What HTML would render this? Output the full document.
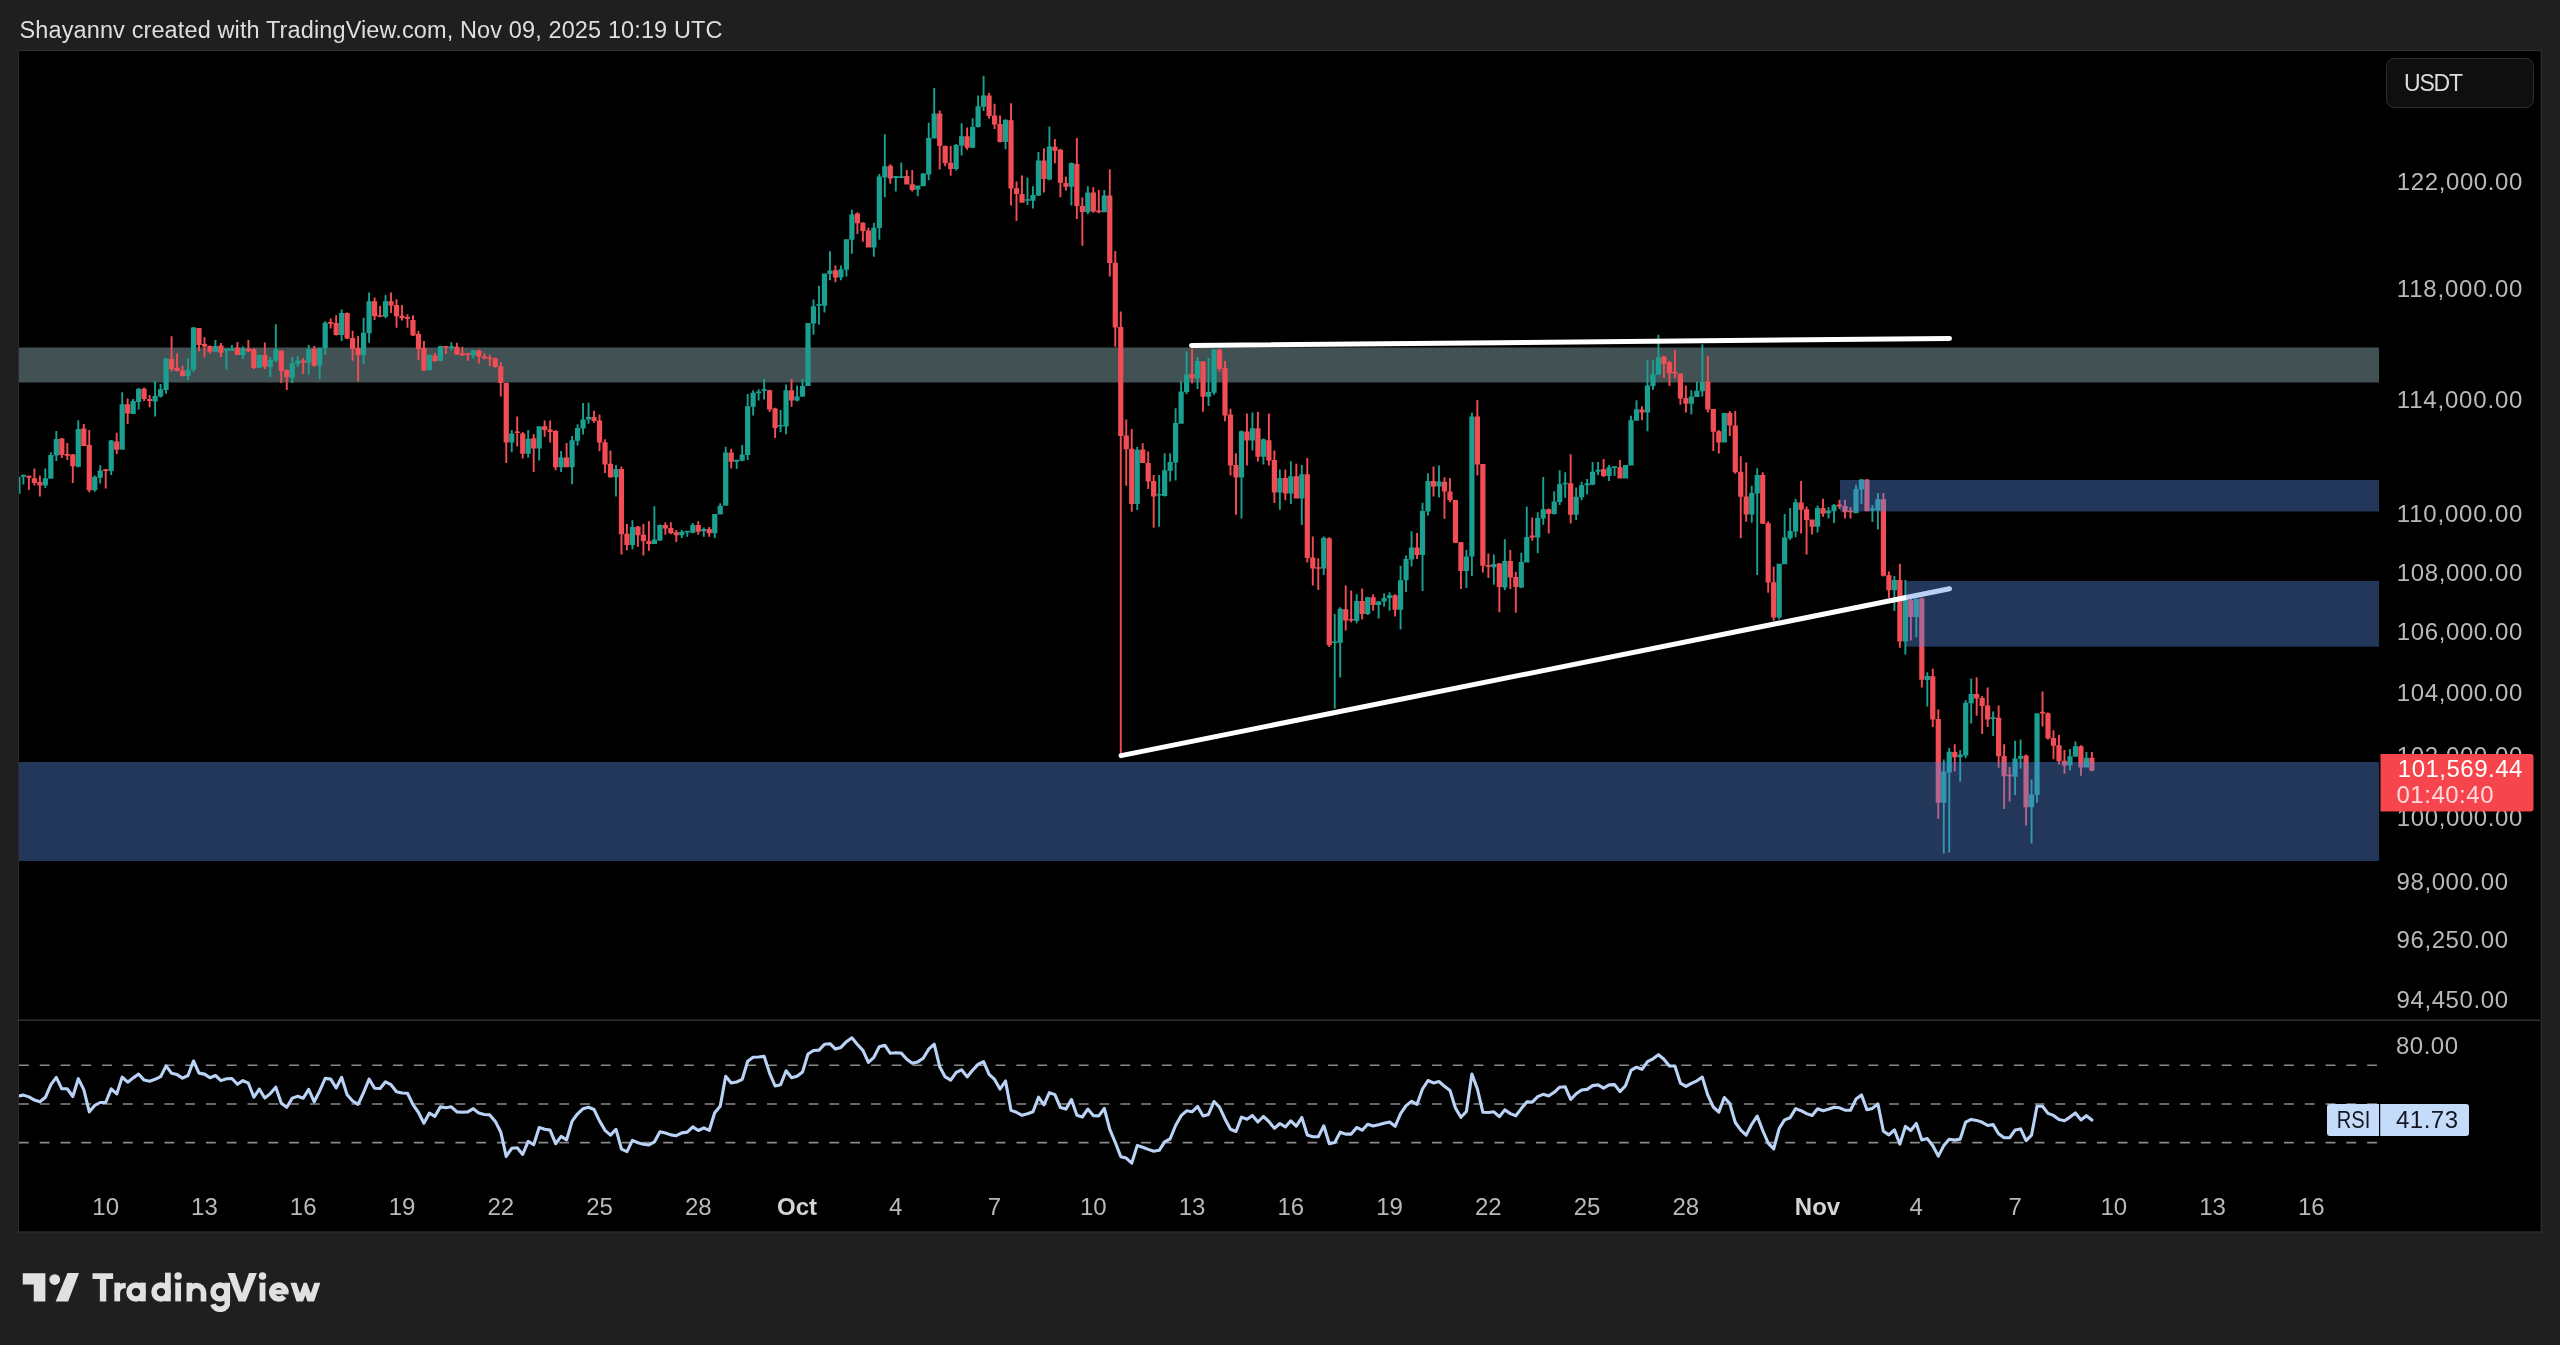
<!DOCTYPE html>
<html><head><meta charset="utf-8"><title>BTCUSDT chart</title>
<style>html,body{margin:0;padding:0;background:#1f1f1f;}body{width:2560px;height:1345px;overflow:hidden;}svg{display:block;will-change:transform}text{font-family:"Liberation Sans",sans-serif;}</style>
</head><body>
<svg width="2560" height="1345" viewBox="0 0 2560 1345">
<rect width="2560" height="1345" fill="#1f1f1f"/>
<rect x="18" y="50" width="2524" height="1182.7" fill="#2c2c2c"/>
<rect x="19" y="51" width="2521.6" height="1180.3" fill="#000"/>
<rect x="19" y="1019.5" width="2521" height="1.5" fill="#2e3038"/>
<defs><clipPath id="cp"><rect x="19" y="51" width="2380" height="1179"/></clipPath></defs>
<rect x="19" y="347.5" width="2360" height="35" fill="#425254"/>
<g clip-path="url(#cp)"><path d="M16.98 476.8h1.9V493.7h-1.9ZM15.33 476.8h5.2V493.7h-5.2ZM22.47 474.4h1.9V484.5h-1.9ZM20.82 474.9h5.2V476.8h-5.2ZM44.41 468.6h1.9V487.9h-1.9ZM42.76 478.3h5.2V485.5h-5.2ZM49.90 452.2h1.9V478.7h-1.9ZM48.25 455.1h5.2V478.7h-5.2ZM55.39 430.9h1.9V460.9h-1.9ZM53.74 439.1h5.2V455.5h-5.2ZM77.33 420.3h1.9V467.6h-1.9ZM75.68 429.0h5.2V466.7h-5.2ZM93.79 475.4h1.9V491.8h-1.9ZM92.14 476.8h5.2V490.3h-5.2ZM99.28 465.2h1.9V483.6h-1.9ZM97.63 470.5h5.2V477.8h-5.2ZM110.25 440.1h1.9V474.9h-1.9ZM108.60 440.6h5.2V471.0h-5.2ZM121.23 392.2h1.9V449.7h-1.9ZM119.58 404.3h5.2V449.7h-5.2ZM132.20 399.0h1.9V414.0h-1.9ZM130.55 400.9h5.2V414.0h-5.2ZM137.69 387.9h1.9V409.6h-1.9ZM136.04 388.8h5.2V401.9h-5.2ZM154.15 381.1h1.9V416.4h-1.9ZM152.50 396.1h5.2V401.4h-5.2ZM159.63 384.0h1.9V397.5h-1.9ZM157.98 389.3h5.2V396.6h-5.2ZM165.12 358.0h1.9V393.8h-1.9ZM163.47 358.5h5.2V389.9h-5.2ZM187.07 358.5h1.9V379.7h-1.9ZM185.42 369.6h5.2V375.9h-5.2ZM192.55 327.0h1.9V372.0h-1.9ZM190.90 327.5h5.2V369.6h-5.2ZM214.50 340.1h1.9V352.2h-1.9ZM212.85 345.9h5.2V351.7h-5.2ZM225.47 348.8h1.9V369.6h-1.9ZM223.82 348.8h5.2V350.7h-5.2ZM230.96 345.0h1.9V350.7h-1.9ZM229.31 348.3h5.2V350.7h-5.2ZM241.93 346.4h1.9V359.0h-1.9ZM240.28 348.3h5.2V355.1h-5.2ZM258.39 354.6h1.9V368.1h-1.9ZM256.74 355.1h5.2V367.7h-5.2ZM269.37 357.0h1.9V377.3h-1.9ZM267.72 359.9h5.2V366.7h-5.2ZM274.85 324.2h1.9V361.9h-1.9ZM273.20 349.3h5.2V360.4h-5.2ZM291.31 357.0h1.9V383.1h-1.9ZM289.66 363.3h5.2V377.8h-5.2ZM296.80 356.0h1.9V366.7h-1.9ZM295.15 360.4h5.2V363.8h-5.2ZM307.78 344.9h1.9V374.4h-1.9ZM306.13 349.3h5.2V362.8h-5.2ZM318.75 347.8h1.9V379.3h-1.9ZM317.10 347.8h5.2V365.7h-5.2ZM324.24 321.3h1.9V355.1h-1.9ZM322.59 322.7h5.2V348.3h-5.2ZM340.70 309.5h1.9V340.9h-1.9ZM339.05 312.9h5.2V335.1h-5.2ZM362.64 317.7h1.9V364.1h-1.9ZM360.99 332.7h5.2V354.9h-5.2ZM368.13 292.6h1.9V342.8h-1.9ZM366.48 301.3h5.2V333.2h-5.2ZM384.59 295.0h1.9V318.2h-1.9ZM382.94 301.3h5.2V316.7h-5.2ZM428.48 354.4h1.9V370.4h-1.9ZM426.83 354.9h5.2V369.9h-5.2ZM439.46 345.7h1.9V361.2h-1.9ZM437.81 346.2h5.2V360.7h-5.2ZM450.43 342.3h1.9V350.6h-1.9ZM448.78 346.2h5.2V348.1h-5.2ZM472.38 350.1h1.9V358.8h-1.9ZM470.73 350.6h5.2V355.4h-5.2ZM510.78 430.1h1.9V452.3h-1.9ZM509.13 433.5h5.2V442.6h-5.2ZM527.24 430.1h1.9V457.6h-1.9ZM525.59 438.8h5.2V453.8h-5.2ZM538.22 426.2h1.9V460.5h-1.9ZM536.57 426.2h5.2V448.4h-5.2ZM560.16 450.9h1.9V472.1h-1.9ZM558.51 457.6h5.2V467.3h-5.2ZM571.14 435.9h1.9V484.2h-1.9ZM569.49 440.2h5.2V467.3h-5.2ZM576.62 424.3h1.9V445.5h-1.9ZM574.97 428.1h5.2V440.7h-5.2ZM582.11 403.0h1.9V434.4h-1.9ZM580.46 419.4h5.2V428.6h-5.2ZM587.60 402.5h1.9V423.8h-1.9ZM585.95 417.0h5.2V419.4h-5.2ZM615.03 465.1h1.9V496.5h-1.9ZM613.38 469.0h5.2V477.2h-5.2ZM631.49 520.2h1.9V549.2h-1.9ZM629.84 527.0h5.2V544.9h-5.2ZM653.44 506.2h1.9V543.9h-1.9ZM651.79 539.6h5.2V543.9h-5.2ZM658.92 524.6h1.9V541.0h-1.9ZM657.27 525.1h5.2V540.5h-5.2ZM680.87 529.9h1.9V538.1h-1.9ZM679.22 531.8h5.2V535.2h-5.2ZM686.36 530.9h1.9V536.7h-1.9ZM684.71 530.8h5.2V532.4h-5.2ZM691.84 523.1h1.9V533.3h-1.9ZM690.19 525.1h5.2V532.8h-5.2ZM702.82 527.5h1.9V536.7h-1.9ZM701.17 528.9h5.2V531.3h-5.2ZM713.79 514.0h1.9V538.1h-1.9ZM712.14 514.0h5.2V533.3h-5.2ZM719.28 503.3h1.9V514.4h-1.9ZM717.63 505.7h5.2V514.4h-5.2ZM724.76 446.8h1.9V505.7h-1.9ZM723.11 452.6h5.2V505.7h-5.2ZM735.74 459.8h1.9V469.0h-1.9ZM734.09 459.8h5.2V461.7h-5.2ZM741.22 444.9h1.9V461.3h-1.9ZM739.57 454.5h5.2V460.8h-5.2ZM746.71 394.1h1.9V459.9h-1.9ZM745.06 406.2h5.2V455.0h-5.2ZM752.20 390.3h1.9V415.4h-1.9ZM750.55 392.7h5.2V406.7h-5.2ZM757.68 389.3h1.9V400.4h-1.9ZM756.03 391.6h5.2V393.2h-5.2ZM763.17 378.7h1.9V399.4h-1.9ZM761.52 389.2h5.2V390.9h-5.2ZM779.63 410.1h1.9V432.3h-1.9ZM777.98 425.0h5.2V426.6h-5.2ZM785.12 384.5h1.9V434.2h-1.9ZM783.47 390.3h5.2V426.5h-5.2ZM796.09 385.4h1.9V401.4h-1.9ZM794.44 396.5h5.2V400.4h-5.2ZM801.58 379.1h1.9V397.0h-1.9ZM799.93 385.9h5.2V396.5h-5.2ZM807.06 323.0h1.9V386.0h-1.9ZM805.41 323.0h5.2V386.0h-5.2ZM812.55 299.6h1.9V334.8h-1.9ZM810.90 306.3h5.2V323.6h-5.2ZM818.04 285.7h1.9V324.7h-1.9ZM816.39 304.1h5.2V305.8h-5.2ZM823.52 273.4h1.9V312.5h-1.9ZM821.87 273.4h5.2V305.8h-5.2ZM829.01 251.2h1.9V280.2h-1.9ZM827.36 270.4h5.2V274.0h-5.2ZM839.98 265.4h1.9V280.3h-1.9ZM838.33 269.2h5.2V277.4h-5.2ZM845.47 239.3h1.9V276.5h-1.9ZM843.82 239.3h5.2V269.7h-5.2ZM850.96 209.8h1.9V253.8h-1.9ZM849.31 214.6h5.2V239.7h-5.2ZM872.91 222.8h1.9V256.7h-1.9ZM871.26 227.7h5.2V247.5h-5.2ZM878.39 174.0h1.9V239.7h-1.9ZM876.74 176.4h5.2V228.1h-5.2ZM883.88 134.3h1.9V197.2h-1.9ZM882.23 166.3h5.2V177.4h-5.2ZM894.85 176.0h1.9V191.4h-1.9ZM893.20 176.0h5.2V177.9h-5.2ZM900.34 162.4h1.9V177.9h-1.9ZM898.69 176.3h5.2V178.0h-5.2ZM916.80 185.6h1.9V196.2h-1.9ZM915.15 185.6h5.2V189.5h-5.2ZM922.29 172.9h1.9V186.5h-1.9ZM920.64 173.4h5.2V186.0h-5.2ZM927.77 122.7h1.9V180.2h-1.9ZM926.12 138.1h5.2V174.4h-5.2ZM933.26 87.9h1.9V138.6h-1.9ZM931.61 113.5h5.2V138.6h-5.2ZM955.21 143.9h1.9V170.5h-1.9ZM953.56 144.9h5.2V169.1h-5.2ZM960.69 123.2h1.9V155.5h-1.9ZM959.04 136.2h5.2V145.4h-5.2ZM971.67 118.3h1.9V148.3h-1.9ZM970.02 127.0h5.2V147.8h-5.2ZM977.15 95.6h1.9V127.5h-1.9ZM975.50 106.2h5.2V127.0h-5.2ZM982.64 75.8h1.9V111.1h-1.9ZM980.99 95.6h5.2V106.7h-5.2ZM1004.59 119.3h1.9V149.3h-1.9ZM1002.94 119.8h5.2V142.0h-5.2ZM1026.53 177.5h1.9V205.1h-1.9ZM1024.88 199.2h5.2V200.8h-5.2ZM1032.02 186.2h1.9V208.5h-1.9ZM1030.37 194.9h5.2V200.7h-5.2ZM1037.51 151.9h1.9V195.9h-1.9ZM1035.86 160.6h5.2V195.4h-5.2ZM1048.48 126.5h1.9V180.2h-1.9ZM1046.83 146.4h5.2V179.5h-5.2ZM1070.43 162.6h1.9V205.6h-1.9ZM1068.78 163.0h5.2V186.7h-5.2ZM1086.89 186.2h1.9V214.3h-1.9ZM1085.24 192.5h5.2V212.3h-5.2ZM1103.35 190.1h1.9V212.3h-1.9ZM1101.70 195.4h5.2V212.3h-5.2ZM1136.27 447.0h1.9V509.9h-1.9ZM1134.62 449.7h5.2V504.1h-5.2ZM1158.21 475.1h1.9V526.8h-1.9ZM1156.56 493.9h5.2V495.5h-5.2ZM1163.70 453.3h1.9V496.4h-1.9ZM1162.05 470.3h5.2V495.9h-5.2ZM1169.19 453.3h1.9V481.4h-1.9ZM1167.54 462.0h5.2V470.7h-5.2ZM1174.67 408.3h1.9V480.4h-1.9ZM1173.02 423.1h5.2V462.5h-5.2ZM1180.16 381.2h1.9V423.8h-1.9ZM1178.51 391.4h5.2V423.8h-5.2ZM1185.65 351.3h1.9V394.3h-1.9ZM1184.00 374.5h5.2V391.9h-5.2ZM1196.62 357.1h1.9V389.0h-1.9ZM1194.97 361.0h5.2V378.3h-5.2ZM1207.59 358.0h1.9V405.9h-1.9ZM1205.94 391.9h5.2V396.7h-5.2ZM1213.08 349.3h1.9V394.8h-1.9ZM1211.43 349.8h5.2V392.8h-5.2ZM1240.51 430.6h1.9V518.6h-1.9ZM1238.86 431.3h5.2V477.5h-5.2ZM1251.49 412.6h1.9V450.4h-1.9ZM1249.84 428.2h5.2V440.5h-5.2ZM1262.46 438.4h1.9V464.5h-1.9ZM1260.81 439.3h5.2V456.7h-5.2ZM1278.92 469.4h1.9V509.7h-1.9ZM1277.27 478.1h5.2V492.6h-5.2ZM1289.89 461.2h1.9V504.0h-1.9ZM1288.24 476.2h5.2V493.6h-5.2ZM1300.87 465.1h1.9V525.1h-1.9ZM1299.22 474.3h5.2V498.5h-5.2ZM1322.81 536.5h1.9V574.9h-1.9ZM1321.16 537.7h5.2V568.6h-5.2ZM1333.79 614.1h1.9V708.5h-1.9ZM1332.14 641.4h5.2V643.0h-5.2ZM1339.27 607.3h1.9V677.6h-1.9ZM1337.62 608.8h5.2V642.7h-5.2ZM1355.73 594.3h1.9V623.3h-1.9ZM1354.08 601.0h5.2V620.9h-5.2ZM1366.71 596.7h1.9V615.1h-1.9ZM1365.06 597.2h5.2V614.1h-5.2ZM1377.68 601.0h1.9V618.4h-1.9ZM1376.03 601.5h5.2V604.9h-5.2ZM1383.17 593.3h1.9V606.8h-1.9ZM1381.52 598.1h5.2V601.5h-5.2ZM1388.65 592.3h1.9V610.7h-1.9ZM1387.01 595.2h5.2V598.1h-5.2ZM1399.63 565.8h1.9V629.6h-1.9ZM1397.98 580.3h5.2V609.7h-5.2ZM1405.12 555.6h1.9V591.9h-1.9ZM1403.47 559.0h5.2V580.3h-5.2ZM1410.60 531.2h1.9V566.4h-1.9ZM1408.95 547.4h5.2V559.5h-5.2ZM1421.58 502.8h1.9V590.9h-1.9ZM1419.93 511.0h5.2V555.1h-5.2ZM1427.06 473.3h1.9V515.4h-1.9ZM1425.41 481.1h5.2V511.5h-5.2ZM1438.04 465.6h1.9V497.5h-1.9ZM1436.39 481.6h5.2V486.4h-5.2ZM1465.47 549.8h1.9V588.0h-1.9ZM1463.82 556.6h5.2V571.1h-5.2ZM1470.96 412.7h1.9V575.9h-1.9ZM1469.31 416.6h5.2V556.6h-5.2ZM1492.90 554.5h1.9V584.7h-1.9ZM1491.25 563.9h5.2V567.3h-5.2ZM1503.88 539.3h1.9V590.0h-1.9ZM1502.23 561.0h5.2V587.6h-5.2ZM1520.34 552.8h1.9V588.1h-1.9ZM1518.69 562.0h5.2V587.6h-5.2ZM1525.82 506.4h1.9V562.5h-1.9ZM1524.17 536.9h5.2V562.5h-5.2ZM1536.80 512.2h1.9V553.3h-1.9ZM1535.15 518.0h5.2V537.4h-5.2ZM1542.28 477.0h1.9V524.8h-1.9ZM1540.63 509.3h5.2V518.5h-5.2ZM1553.26 491.2h1.9V514.4h-1.9ZM1551.61 501.6h5.2V513.9h-5.2ZM1558.74 470.2h1.9V505.0h-1.9ZM1557.09 484.2h5.2V502.1h-5.2ZM1564.23 472.2h1.9V497.8h-1.9ZM1562.58 482.7h5.2V484.3h-5.2ZM1575.20 487.6h1.9V520.0h-1.9ZM1573.55 496.8h5.2V514.7h-5.2ZM1580.69 481.8h1.9V500.2h-1.9ZM1579.04 485.2h5.2V497.3h-5.2ZM1586.18 478.9h1.9V494.6h-1.9ZM1584.53 483.3h5.2V485.2h-5.2ZM1591.66 462.0h1.9V485.2h-1.9ZM1590.01 471.7h5.2V484.7h-5.2ZM1597.15 462.0h1.9V475.1h-1.9ZM1595.50 469.7h5.2V471.7h-5.2ZM1608.12 464.9h1.9V480.9h-1.9ZM1606.47 467.3h5.2V476.0h-5.2ZM1613.61 466.4h1.9V476.0h-1.9ZM1611.96 466.3h5.2V467.9h-5.2ZM1624.58 464.9h1.9V478.4h-1.9ZM1622.93 464.9h5.2V478.4h-5.2ZM1630.07 415.7h1.9V465.4h-1.9ZM1628.42 420.3h5.2V465.4h-5.2ZM1635.56 400.2h1.9V420.8h-1.9ZM1633.91 409.2h5.2V420.8h-5.2ZM1646.53 360.3h1.9V431.3h-1.9ZM1644.88 385.4h5.2V412.5h-5.2ZM1652.02 359.8h1.9V389.8h-1.9ZM1650.37 374.3h5.2V385.9h-5.2ZM1657.50 334.7h1.9V374.8h-1.9ZM1655.85 357.4h5.2V374.8h-5.2ZM1690.42 390.2h1.9V414.4h-1.9ZM1688.77 396.5h5.2V403.8h-5.2ZM1695.91 381.5h1.9V397.0h-1.9ZM1694.26 390.7h5.2V397.0h-5.2ZM1701.40 344.3h1.9V396.5h-1.9ZM1699.75 382.0h5.2V391.2h-5.2ZM1723.34 413.0h1.9V442.4h-1.9ZM1721.69 413.0h5.2V442.4h-5.2ZM1750.78 485.7h1.9V522.8h-1.9ZM1749.13 493.0h5.2V514.6h-5.2ZM1756.26 468.3h1.9V574.9h-1.9ZM1754.61 475.1h5.2V493.5h-5.2ZM1778.21 563.8h1.9V619.4h-1.9ZM1776.56 563.8h5.2V617.4h-5.2ZM1783.70 513.9h1.9V564.3h-1.9ZM1782.05 537.6h5.2V564.3h-5.2ZM1789.18 508.1h1.9V540.0h-1.9ZM1787.53 531.0h5.2V538.3h-5.2ZM1794.67 498.8h1.9V537.3h-1.9ZM1793.02 502.3h5.2V531.5h-5.2ZM1816.62 505.5h1.9V532.6h-1.9ZM1814.97 508.0h5.2V526.8h-5.2ZM1827.59 507.0h1.9V518.6h-1.9ZM1825.94 510.4h5.2V513.3h-5.2ZM1833.08 504.1h1.9V522.9h-1.9ZM1831.43 505.1h5.2V511.3h-5.2ZM1855.02 484.8h1.9V513.3h-1.9ZM1853.37 489.1h5.2V513.3h-5.2ZM1860.51 479.0h1.9V504.1h-1.9ZM1858.86 479.4h5.2V489.6h-5.2ZM1871.48 505.1h1.9V522.0h-1.9ZM1869.83 508.4h5.2V510.4h-5.2ZM1876.97 493.0h1.9V529.6h-1.9ZM1875.32 499.3h5.2V510.4h-5.2ZM1893.43 576.0h1.9V611.1h-1.9ZM1891.78 580.1h5.2V590.3h-5.2ZM1904.40 579.9h1.9V654.6h-1.9ZM1902.75 599.0h5.2V641.5h-5.2ZM1915.38 598.5h1.9V637.2h-1.9ZM1913.73 599.0h5.2V616.9h-5.2ZM1926.35 672.3h1.9V706.6h-1.9ZM1924.70 676.0h5.2V680.0h-5.2ZM1942.81 759.5h1.9V853.6h-1.9ZM1941.16 771.4h5.2V802.8h-5.2ZM1948.30 748.1h1.9V852.6h-1.9ZM1946.65 751.8h5.2V772.4h-5.2ZM1959.27 750.1h1.9V781.8h-1.9ZM1957.62 754.4h5.2V757.3h-5.2ZM1964.76 700.3h1.9V758.3h-1.9ZM1963.11 702.7h5.2V755.4h-5.2ZM1970.25 678.4h1.9V723.5h-1.9ZM1968.60 694.0h5.2V703.2h-5.2ZM1992.19 711.4h1.9V736.0h-1.9ZM1990.54 717.2h5.2V719.1h-5.2ZM2014.14 740.7h1.9V795.1h-1.9ZM2012.49 758.4h5.2V776.7h-5.2ZM2019.63 739.4h1.9V768.7h-1.9ZM2017.98 755.9h5.2V758.8h-5.2ZM2030.60 779.6h1.9V843.4h-1.9ZM2028.95 794.6h5.2V807.2h-5.2ZM2036.09 713.3h1.9V802.8h-1.9ZM2034.44 713.3h5.2V795.1h-5.2ZM2069.01 749.1h1.9V770.4h-1.9ZM2067.36 756.3h5.2V765.5h-5.2ZM2074.49 741.4h1.9V756.8h-1.9ZM2072.84 746.2h5.2V756.8h-5.2ZM2085.47 752.0h1.9V767.5h-1.9ZM2083.82 757.8h5.2V767.5h-5.2Z" fill="#1a9f90"/><path d="M27.95 475.4h1.9V489.9h-1.9ZM26.30 475.8h5.2V477.8h-5.2ZM33.44 468.6h1.9V485.5h-1.9ZM31.79 478.3h5.2V483.1h-5.2ZM38.93 475.4h1.9V496.6h-1.9ZM37.28 482.1h5.2V485.5h-5.2ZM60.87 438.1h1.9V458.0h-1.9ZM59.22 438.6h5.2V455.1h-5.2ZM66.36 443.0h1.9V459.9h-1.9ZM64.71 454.1h5.2V455.7h-5.2ZM71.85 454.1h1.9V483.1h-1.9ZM70.20 454.6h5.2V466.2h-5.2ZM82.82 424.1h1.9V445.9h-1.9ZM81.17 428.5h5.2V445.9h-5.2ZM88.31 429.9h1.9V492.3h-1.9ZM86.66 444.9h5.2V490.3h-5.2ZM104.77 469.1h1.9V488.4h-1.9ZM103.12 469.2h5.2V470.9h-5.2ZM115.74 432.8h1.9V454.1h-1.9ZM114.09 441.5h5.2V449.7h-5.2ZM126.71 398.5h1.9V424.1h-1.9ZM125.06 404.3h5.2V413.5h-5.2ZM143.17 387.4h1.9V400.9h-1.9ZM141.52 388.8h5.2V399.0h-5.2ZM148.66 395.1h1.9V407.2h-1.9ZM147.01 399.0h5.2V400.9h-5.2ZM170.61 336.2h1.9V371.5h-1.9ZM168.96 359.0h5.2V369.1h-5.2ZM176.09 353.6h1.9V371.5h-1.9ZM174.44 367.7h5.2V371.0h-5.2ZM181.58 365.7h1.9V376.4h-1.9ZM179.93 370.6h5.2V375.9h-5.2ZM198.04 328.0h1.9V351.2h-1.9ZM196.39 328.0h5.2V344.9h-5.2ZM203.53 337.2h1.9V357.5h-1.9ZM201.88 344.0h5.2V346.4h-5.2ZM209.01 345.4h1.9V353.6h-1.9ZM207.36 345.9h5.2V351.7h-5.2ZM219.99 343.0h1.9V357.0h-1.9ZM218.34 345.4h5.2V352.7h-5.2ZM236.45 342.0h1.9V355.1h-1.9ZM234.80 347.8h5.2V355.1h-5.2ZM247.42 340.1h1.9V352.2h-1.9ZM245.77 348.8h5.2V351.2h-5.2ZM252.91 348.3h1.9V369.1h-1.9ZM251.26 349.3h5.2V368.1h-5.2ZM263.88 342.5h1.9V369.1h-1.9ZM262.23 355.1h5.2V366.7h-5.2ZM280.34 350.3h1.9V383.1h-1.9ZM278.69 350.7h5.2V371.0h-5.2ZM285.83 369.6h1.9V389.9h-1.9ZM284.18 370.1h5.2V377.3h-5.2ZM302.29 358.0h1.9V373.9h-1.9ZM300.64 360.4h5.2V362.8h-5.2ZM313.26 345.9h1.9V366.7h-1.9ZM311.61 348.8h5.2V365.7h-5.2ZM329.72 318.4h1.9V328.5h-1.9ZM328.07 322.1h5.2V323.8h-5.2ZM335.21 315.3h1.9V335.6h-1.9ZM333.56 323.0h5.2V335.1h-5.2ZM346.18 312.4h1.9V339.0h-1.9ZM344.53 312.9h5.2V338.5h-5.2ZM351.67 330.7h1.9V360.7h-1.9ZM350.02 338.0h5.2V349.1h-5.2ZM357.16 336.1h1.9V381.5h-1.9ZM355.51 348.1h5.2V354.9h-5.2ZM373.62 297.4h1.9V320.1h-1.9ZM371.97 301.3h5.2V316.2h-5.2ZM379.10 306.1h1.9V317.2h-1.9ZM377.45 315.2h5.2V316.8h-5.2ZM390.08 292.6h1.9V312.9h-1.9ZM388.43 301.3h5.2V305.6h-5.2ZM395.56 299.3h1.9V327.8h-1.9ZM393.91 305.1h5.2V316.2h-5.2ZM401.05 305.1h1.9V320.6h-1.9ZM399.40 315.8h5.2V318.2h-5.2ZM406.54 314.3h1.9V327.8h-1.9ZM404.89 317.1h5.2V318.8h-5.2ZM412.02 315.3h1.9V336.1h-1.9ZM410.37 320.1h5.2V335.6h-5.2ZM417.51 330.7h1.9V360.2h-1.9ZM415.86 334.1h5.2V349.1h-5.2ZM423.00 340.9h1.9V370.9h-1.9ZM421.35 348.1h5.2V370.4h-5.2ZM433.97 353.0h1.9V361.7h-1.9ZM432.32 355.4h5.2V361.2h-5.2ZM444.94 346.2h1.9V354.0h-1.9ZM443.29 346.1h5.2V347.8h-5.2ZM455.92 342.8h1.9V354.9h-1.9ZM454.27 346.7h5.2V354.4h-5.2ZM461.40 346.7h1.9V355.9h-1.9ZM459.75 353.6h5.2V355.2h-5.2ZM466.89 353.0h1.9V360.7h-1.9ZM465.24 353.1h5.2V354.8h-5.2ZM477.86 349.6h1.9V363.6h-1.9ZM476.21 350.6h5.2V356.4h-5.2ZM483.35 353.5h1.9V359.3h-1.9ZM481.70 356.4h5.2V358.3h-5.2ZM488.84 354.4h1.9V366.0h-1.9ZM487.19 357.5h5.2V359.1h-5.2ZM494.32 357.8h1.9V367.5h-1.9ZM492.67 358.3h5.2V367.0h-5.2ZM499.81 362.2h1.9V396.5h-1.9ZM498.16 366.5h5.2V382.9h-5.2ZM505.30 382.7h1.9V463.0h-1.9ZM503.65 382.7h5.2V442.6h-5.2ZM516.27 416.5h1.9V446.5h-1.9ZM514.62 431.4h5.2V433.1h-5.2ZM521.76 432.0h1.9V458.6h-1.9ZM520.11 433.5h5.2V453.8h-5.2ZM532.73 433.9h1.9V472.1h-1.9ZM531.08 438.3h5.2V448.4h-5.2ZM543.70 420.4h1.9V436.8h-1.9ZM542.05 426.2h5.2V430.1h-5.2ZM549.19 420.4h1.9V442.6h-1.9ZM547.54 429.6h5.2V432.0h-5.2ZM554.68 430.1h1.9V470.2h-1.9ZM553.03 431.0h5.2V467.3h-5.2ZM565.65 443.1h1.9V467.3h-1.9ZM564.00 457.6h5.2V467.3h-5.2ZM593.08 410.7h1.9V422.8h-1.9ZM591.43 417.0h5.2V420.9h-5.2ZM598.57 414.6h1.9V451.3h-1.9ZM596.92 420.4h5.2V442.6h-5.2ZM604.06 439.3h1.9V473.1h-1.9ZM602.41 442.2h5.2V464.4h-5.2ZM609.54 450.6h1.9V477.7h-1.9ZM607.89 463.7h5.2V477.2h-5.2ZM620.52 466.6h1.9V554.5h-1.9ZM618.87 469.0h5.2V534.2h-5.2ZM626.00 524.1h1.9V550.2h-1.9ZM624.35 533.8h5.2V544.9h-5.2ZM636.98 526.0h1.9V546.8h-1.9ZM635.33 526.5h5.2V535.2h-5.2ZM642.46 524.1h1.9V555.5h-1.9ZM640.81 534.7h5.2V541.0h-5.2ZM647.95 521.2h1.9V550.7h-1.9ZM646.30 541.0h5.2V543.9h-5.2ZM664.41 522.2h1.9V534.7h-1.9ZM662.76 525.1h5.2V528.4h-5.2ZM669.90 522.2h1.9V534.2h-1.9ZM668.25 528.0h5.2V533.3h-5.2ZM675.38 529.9h1.9V542.0h-1.9ZM673.73 532.3h5.2V535.2h-5.2ZM697.33 521.2h1.9V534.7h-1.9ZM695.68 525.1h5.2V531.8h-5.2ZM708.30 527.0h1.9V536.7h-1.9ZM706.65 528.9h5.2V533.3h-5.2ZM730.25 448.7h1.9V468.5h-1.9ZM728.60 452.6h5.2V461.7h-5.2ZM768.66 389.8h1.9V412.0h-1.9ZM767.01 390.3h5.2V409.6h-5.2ZM774.14 407.7h1.9V438.1h-1.9ZM772.49 408.6h5.2V428.0h-5.2ZM790.60 379.1h1.9V406.7h-1.9ZM788.95 390.3h5.2V400.4h-5.2ZM834.50 265.4h1.9V282.3h-1.9ZM832.85 270.2h5.2V277.4h-5.2ZM856.45 212.2h1.9V233.9h-1.9ZM854.80 213.6h5.2V223.3h-5.2ZM861.93 222.3h1.9V241.7h-1.9ZM860.28 222.8h5.2V231.0h-5.2ZM867.42 227.7h1.9V247.5h-1.9ZM865.77 230.6h5.2V247.5h-5.2ZM889.37 164.3h1.9V183.7h-1.9ZM887.72 165.8h5.2V178.4h-5.2ZM905.83 170.1h1.9V184.6h-1.9ZM904.18 176.0h5.2V184.6h-5.2ZM911.31 170.1h1.9V191.4h-1.9ZM909.66 184.2h5.2V190.0h-5.2ZM938.75 110.6h1.9V169.6h-1.9ZM937.10 113.5h5.2V145.9h-5.2ZM944.23 145.4h1.9V166.2h-1.9ZM942.58 145.9h5.2V163.3h-5.2ZM949.72 145.9h1.9V175.8h-1.9ZM948.07 162.8h5.2V169.1h-5.2ZM966.18 127.5h1.9V149.7h-1.9ZM964.53 136.2h5.2V147.8h-5.2ZM988.13 92.7h1.9V118.8h-1.9ZM986.48 95.6h5.2V115.9h-5.2ZM993.61 103.8h1.9V129.0h-1.9ZM991.96 115.4h5.2V124.6h-5.2ZM999.10 115.4h1.9V142.5h-1.9ZM997.45 124.1h5.2V142.0h-5.2ZM1010.07 103.3h1.9V205.6h-1.9ZM1008.42 120.3h5.2V188.5h-5.2ZM1015.56 181.4h1.9V221.0h-1.9ZM1013.91 188.2h5.2V194.0h-5.2ZM1021.05 175.6h1.9V202.7h-1.9ZM1019.40 194.0h5.2V202.7h-5.2ZM1042.99 148.3h1.9V192.5h-1.9ZM1041.34 160.6h5.2V179.0h-5.2ZM1053.97 139.1h1.9V163.3h-1.9ZM1052.32 146.8h5.2V150.7h-5.2ZM1059.45 148.8h1.9V197.3h-1.9ZM1057.80 149.7h5.2V182.8h-5.2ZM1064.94 176.6h1.9V190.6h-1.9ZM1063.29 182.9h5.2V186.7h-5.2ZM1075.91 138.1h1.9V219.1h-1.9ZM1074.26 164.0h5.2V206.1h-5.2ZM1081.40 197.4h1.9V245.7h-1.9ZM1079.75 206.1h5.2V211.9h-5.2ZM1092.37 187.2h1.9V212.8h-1.9ZM1090.72 192.5h5.2V211.4h-5.2ZM1097.86 190.1h1.9V213.3h-1.9ZM1096.21 210.4h5.2V212.3h-5.2ZM1108.83 169.3h1.9V276.6h-1.9ZM1107.18 195.4h5.2V263.1h-5.2ZM1114.32 251.1h1.9V346.8h-1.9ZM1112.67 262.7h5.2V327.5h-5.2ZM1119.81 311.5h1.9V755.5h-1.9ZM1118.16 327.0h5.2V436.0h-5.2ZM1125.29 419.4h1.9V485.7h-1.9ZM1123.64 435.5h5.2V449.2h-5.2ZM1130.78 429.1h1.9V511.8h-1.9ZM1129.13 448.7h5.2V504.1h-5.2ZM1141.75 443.2h1.9V463.0h-1.9ZM1140.10 449.5h5.2V463.0h-5.2ZM1147.24 451.4h1.9V489.1h-1.9ZM1145.59 463.0h5.2V481.4h-5.2ZM1152.73 475.1h1.9V527.8h-1.9ZM1151.08 480.9h5.2V496.4h-5.2ZM1191.13 348.8h1.9V383.2h-1.9ZM1189.48 374.0h5.2V378.3h-5.2ZM1202.11 360.9h1.9V411.7h-1.9ZM1200.46 361.4h5.2V396.7h-5.2ZM1218.57 348.8h1.9V371.6h-1.9ZM1216.92 349.8h5.2V369.1h-5.2ZM1224.05 360.9h1.9V421.3h-1.9ZM1222.40 368.2h5.2V415.5h-5.2ZM1229.54 408.8h1.9V475.6h-1.9ZM1227.89 414.6h5.2V465.4h-5.2ZM1235.03 453.3h1.9V514.7h-1.9ZM1233.38 464.9h5.2V477.5h-5.2ZM1246.00 413.6h1.9V465.4h-1.9ZM1244.35 431.6h5.2V440.5h-5.2ZM1256.97 411.7h1.9V461.6h-1.9ZM1255.32 428.2h5.2V456.7h-5.2ZM1267.95 413.6h1.9V465.4h-1.9ZM1266.30 440.3h5.2V460.6h-5.2ZM1273.43 450.4h1.9V503.1h-1.9ZM1271.78 460.1h5.2V492.5h-5.2ZM1284.41 469.4h1.9V500.3h-1.9ZM1282.76 478.1h5.2V493.6h-5.2ZM1295.38 463.7h1.9V498.5h-1.9ZM1293.73 476.2h5.2V498.5h-5.2ZM1306.35 457.9h1.9V562.6h-1.9ZM1304.70 474.3h5.2V557.9h-5.2ZM1311.84 536.5h1.9V585.6h-1.9ZM1310.19 557.5h5.2V568.6h-5.2ZM1317.33 558.2h1.9V589.9h-1.9ZM1315.68 567.2h5.2V568.8h-5.2ZM1328.30 537.2h1.9V647.0h-1.9ZM1326.65 538.2h5.2V645.2h-5.2ZM1344.76 585.6h1.9V630.5h-1.9ZM1343.11 609.3h5.2V620.4h-5.2ZM1350.25 590.4h1.9V622.3h-1.9ZM1348.60 618.9h5.2V620.4h-5.2ZM1361.22 588.5h1.9V619.4h-1.9ZM1359.57 601.0h5.2V614.1h-5.2ZM1372.19 594.3h1.9V610.7h-1.9ZM1370.54 597.2h5.2V604.9h-5.2ZM1394.14 594.3h1.9V616.5h-1.9ZM1392.49 595.2h5.2V609.7h-5.2ZM1416.09 532.9h1.9V559.0h-1.9ZM1414.44 547.4h5.2V555.1h-5.2ZM1432.55 466.6h1.9V496.5h-1.9ZM1430.90 481.1h5.2V486.4h-5.2ZM1443.52 477.3h1.9V518.7h-1.9ZM1441.87 481.7h5.2V491.6h-5.2ZM1449.01 478.1h1.9V502.2h-1.9ZM1447.36 491.4h5.2V500.3h-5.2ZM1454.50 499.9h1.9V542.9h-1.9ZM1452.85 499.9h5.2V542.8h-5.2ZM1459.98 542.1h1.9V589.0h-1.9ZM1458.33 542.3h5.2V571.1h-5.2ZM1476.44 400.1h1.9V475.5h-1.9ZM1474.79 416.6h5.2V464.4h-5.2ZM1481.93 464.0h1.9V572.6h-1.9ZM1480.28 464.0h5.2V565.8h-5.2ZM1487.42 553.5h1.9V577.9h-1.9ZM1485.77 565.1h5.2V566.8h-5.2ZM1498.39 563.0h1.9V612.3h-1.9ZM1496.74 563.5h5.2V587.1h-5.2ZM1509.36 549.9h1.9V589.1h-1.9ZM1507.71 561.0h5.2V577.5h-5.2ZM1514.85 571.7h1.9V612.8h-1.9ZM1513.20 577.0h5.2V587.1h-5.2ZM1531.31 517.5h1.9V540.7h-1.9ZM1529.66 535.4h5.2V537.4h-5.2ZM1547.77 508.6h1.9V533.5h-1.9ZM1546.12 509.3h5.2V513.7h-5.2ZM1569.72 454.3h1.9V523.4h-1.9ZM1568.07 483.3h5.2V514.7h-5.2ZM1602.64 459.1h1.9V477.0h-1.9ZM1600.99 469.3h5.2V476.0h-5.2ZM1619.10 460.1h1.9V478.4h-1.9ZM1617.45 467.3h5.2V478.4h-5.2ZM1641.04 406.2h1.9V420.2h-1.9ZM1639.39 409.6h5.2V412.5h-5.2ZM1662.99 355.9h1.9V377.7h-1.9ZM1661.34 356.4h5.2V363.7h-5.2ZM1668.48 360.8h1.9V385.9h-1.9ZM1666.83 362.2h5.2V373.3h-5.2ZM1673.96 350.1h1.9V378.2h-1.9ZM1672.31 371.8h5.2V373.4h-5.2ZM1679.45 373.3h1.9V404.7h-1.9ZM1677.80 373.8h5.2V398.5h-5.2ZM1684.94 385.4h1.9V412.5h-1.9ZM1683.29 398.0h5.2V403.8h-5.2ZM1706.88 355.9h1.9V412.5h-1.9ZM1705.23 381.5h5.2V409.6h-5.2ZM1712.37 409.1h1.9V451.1h-1.9ZM1710.72 409.1h5.2V431.8h-5.2ZM1717.86 429.9h1.9V453.6h-1.9ZM1716.21 431.3h5.2V442.4h-5.2ZM1728.83 411.0h1.9V436.1h-1.9ZM1727.18 413.0h5.2V425.4h-5.2ZM1734.32 411.0h1.9V473.7h-1.9ZM1732.67 425.4h5.2V472.2h-5.2ZM1739.80 456.2h1.9V538.3h-1.9ZM1738.15 471.7h5.2V496.8h-5.2ZM1745.29 462.5h1.9V521.8h-1.9ZM1743.64 496.4h5.2V514.6h-5.2ZM1761.75 472.2h1.9V523.9h-1.9ZM1760.10 475.1h5.2V523.8h-5.2ZM1767.24 521.2h1.9V592.8h-1.9ZM1765.59 523.3h5.2V582.6h-5.2ZM1772.72 566.7h1.9V620.8h-1.9ZM1771.07 582.2h5.2V617.4h-5.2ZM1800.16 480.9h1.9V533.4h-1.9ZM1798.51 502.5h5.2V509.8h-5.2ZM1805.64 506.4h1.9V554.6h-1.9ZM1803.99 509.3h5.2V519.9h-5.2ZM1811.13 519.4h1.9V534.4h-1.9ZM1809.48 519.4h5.2V526.7h-5.2ZM1822.10 498.8h1.9V516.7h-1.9ZM1820.45 508.0h5.2V513.8h-5.2ZM1838.56 499.7h1.9V508.9h-1.9ZM1836.91 504.6h5.2V506.5h-5.2ZM1844.05 499.7h1.9V518.6h-1.9ZM1842.40 506.0h5.2V512.3h-5.2ZM1849.54 507.0h1.9V518.6h-1.9ZM1847.89 510.4h5.2V512.3h-5.2ZM1866.00 479.0h1.9V511.3h-1.9ZM1864.35 479.4h5.2V511.3h-5.2ZM1882.46 493.0h1.9V576.4h-1.9ZM1880.81 499.3h5.2V575.8h-5.2ZM1887.94 571.5h1.9V598.0h-1.9ZM1886.29 575.3h5.2V590.3h-5.2ZM1898.92 563.8h1.9V647.8h-1.9ZM1897.27 579.9h5.2V641.5h-5.2ZM1909.89 599.0h1.9V640.6h-1.9ZM1908.24 600.0h5.2V616.9h-5.2ZM1920.86 597.5h1.9V687.5h-1.9ZM1919.21 598.5h5.2V679.8h-5.2ZM1931.84 668.8h1.9V726.9h-1.9ZM1930.19 676.2h5.2V719.6h-5.2ZM1937.33 709.5h1.9V818.8h-1.9ZM1935.68 719.1h5.2V802.8h-5.2ZM1953.79 744.3h1.9V771.6h-1.9ZM1952.14 752.0h5.2V757.3h-5.2ZM1975.73 677.2h1.9V715.7h-1.9ZM1974.08 694.0h5.2V698.4h-5.2ZM1981.22 695.9h1.9V734.1h-1.9ZM1979.57 697.9h5.2V706.1h-5.2ZM1986.71 687.6h1.9V726.9h-1.9ZM1985.06 705.6h5.2V719.6h-5.2ZM1997.68 705.6h1.9V767.7h-1.9ZM1996.03 717.7h5.2V756.2h-5.2ZM2003.17 744.3h1.9V809.1h-1.9ZM2001.52 756.0h5.2V776.2h-5.2ZM2008.65 767.0h1.9V801.4h-1.9ZM2007.00 774.7h5.2V776.3h-5.2ZM2025.11 754.5h1.9V825.5h-1.9ZM2023.46 755.5h5.2V807.2h-5.2ZM2041.57 691.5h1.9V726.4h-1.9ZM2039.92 711.8h5.2V713.4h-5.2ZM2047.06 712.4h1.9V739.4h-1.9ZM2045.41 713.3h5.2V738.5h-5.2ZM2052.55 730.2h1.9V759.2h-1.9ZM2050.90 738.0h5.2V745.7h-5.2ZM2058.03 735.1h1.9V764.6h-1.9ZM2056.38 745.2h5.2V761.2h-5.2ZM2063.52 750.1h1.9V773.7h-1.9ZM2061.87 760.7h5.2V765.5h-5.2ZM2079.98 745.2h1.9V775.7h-1.9ZM2078.33 746.2h5.2V767.5h-5.2ZM2090.95 752.0h1.9V771.3h-1.9ZM2089.30 757.8h5.2V770.8h-5.2Z" fill="#f24d55"/></g>
<line x1="1191.5" y1="345.6" x2="1949.5" y2="338.4" stroke="#fff" stroke-width="5" stroke-linecap="round"/>
<line x1="1121" y1="755.6" x2="1949.5" y2="588.8" stroke="#fff" stroke-width="5" stroke-linecap="round"/>
<rect x="1840" y="480" width="539" height="31.5" fill="#558ae1" fill-opacity="0.4"/>
<rect x="1906" y="581" width="473" height="65.7" fill="#558ae1" fill-opacity="0.4"/>
<rect x="19" y="762" width="2360" height="99" fill="#558ae1" fill-opacity="0.4"/>
<line x1="19" y1="1065.3" x2="2378" y2="1065.3" stroke="#8a8a8a" stroke-width="1.6" stroke-dasharray="9.8 10.98" stroke-dashoffset="0"/>
<line x1="19" y1="1104" x2="2378" y2="1104" stroke="#8a8a8a" stroke-width="1.6" stroke-dasharray="9.8 10.98" stroke-dashoffset="0"/>
<line x1="19" y1="1142.6" x2="2378" y2="1142.6" stroke="#8a8a8a" stroke-width="1.6" stroke-dasharray="9.8 10.98" stroke-dashoffset="0"/>
<polyline clip-path="url(#cp)" points="17.9,1096.0 23.4,1095.1 28.9,1096.9 34.4,1100.1 39.9,1101.7 45.4,1097.3 50.9,1084.7 56.3,1077.4 61.8,1088.8 67.3,1088.8 72.8,1096.5 78.3,1078.7 83.8,1089.6 89.3,1111.8 94.7,1105.4 100.2,1102.5 105.7,1102.5 111.2,1088.9 116.7,1093.9 122.2,1077.1 127.7,1082.2 133.2,1077.9 138.6,1074.0 144.1,1080.1 149.6,1081.2 155.1,1079.3 160.6,1076.7 166.1,1065.9 171.6,1073.3 177.0,1074.6 182.5,1078.1 188.0,1075.5 193.5,1061.0 199.0,1073.1 204.5,1074.1 210.0,1077.8 215.5,1075.5 220.9,1080.6 226.4,1078.8 231.9,1078.5 237.4,1084.3 242.9,1080.6 248.4,1083.2 253.9,1097.2 259.3,1089.1 264.8,1098.0 270.3,1093.6 275.8,1087.2 281.3,1103.2 286.8,1107.3 292.3,1098.1 297.8,1096.3 303.2,1098.2 308.7,1089.4 314.2,1101.8 319.7,1090.9 325.2,1078.4 330.7,1079.1 336.2,1088.0 341.6,1077.3 347.1,1094.7 352.6,1101.0 358.1,1104.3 363.6,1092.5 369.1,1079.1 374.6,1088.2 380.1,1088.5 385.5,1081.8 391.0,1084.7 396.5,1091.7 402.0,1093.0 407.5,1093.3 413.0,1104.6 418.5,1112.5 423.9,1123.2 429.4,1113.1 434.9,1116.3 440.4,1106.9 445.9,1107.8 451.4,1106.8 456.9,1111.9 462.4,1112.3 467.8,1111.9 473.3,1108.7 478.8,1113.1 484.3,1114.5 489.8,1114.9 495.3,1121.4 500.8,1132.2 506.2,1156.4 511.7,1148.3 517.2,1147.8 522.7,1154.4 528.2,1141.4 533.7,1144.8 539.2,1127.5 544.7,1129.2 550.1,1130.1 555.6,1143.7 561.1,1136.4 566.6,1139.9 572.1,1121.1 577.6,1113.8 583.1,1108.7 588.5,1107.3 594.0,1109.5 599.5,1120.9 605.0,1130.3 610.5,1135.1 616.0,1129.3 621.5,1149.2 627.0,1151.6 632.4,1140.4 637.9,1142.7 643.4,1144.2 648.9,1145.0 654.4,1141.9 659.9,1131.8 665.4,1133.0 670.8,1134.9 676.3,1135.7 681.8,1132.9 687.3,1132.1 692.8,1126.9 698.3,1130.5 703.8,1127.8 709.3,1130.3 714.7,1112.8 720.2,1106.2 725.7,1076.3 731.2,1082.9 736.7,1082.0 742.2,1079.4 747.7,1061.2 753.1,1057.3 758.6,1057.0 764.1,1056.3 769.6,1073.1 775.1,1086.0 780.6,1084.7 786.1,1070.8 791.6,1077.7 797.0,1076.2 802.5,1072.1 808.0,1054.0 813.5,1050.5 819.0,1050.1 824.5,1044.2 830.0,1043.7 835.4,1049.1 840.9,1047.4 846.4,1041.7 851.9,1037.8 857.4,1044.5 862.9,1050.4 868.4,1062.4 873.9,1057.3 879.3,1046.8 884.8,1045.2 890.3,1053.3 895.8,1052.8 901.3,1053.1 906.8,1059.2 912.3,1063.3 917.7,1061.9 923.2,1058.2 928.7,1049.2 934.2,1044.2 939.7,1066.7 945.2,1076.9 950.7,1080.1 956.2,1072.4 961.6,1069.8 967.1,1076.9 972.6,1070.3 978.1,1064.4 983.6,1061.6 989.1,1074.3 994.6,1079.4 1000.0,1089.1 1005.5,1081.0 1011.0,1110.4 1016.5,1112.3 1022.0,1115.3 1027.5,1113.8 1033.0,1111.7 1038.5,1097.2 1043.9,1104.9 1049.4,1092.7 1054.9,1094.6 1060.4,1107.6 1065.9,1109.1 1071.4,1099.6 1076.9,1115.2 1082.3,1117.0 1087.8,1109.1 1093.3,1115.6 1098.8,1115.9 1104.3,1108.5 1109.8,1129.3 1115.3,1142.5 1120.8,1156.8 1126.2,1158.1 1131.7,1163.2 1137.2,1145.6 1142.7,1147.2 1148.2,1149.4 1153.7,1151.2 1159.2,1150.3 1164.7,1141.8 1170.1,1138.8 1175.6,1125.5 1181.1,1115.7 1186.6,1110.8 1192.1,1111.8 1197.6,1106.4 1203.1,1116.0 1208.5,1114.4 1214.0,1101.5 1219.5,1107.1 1225.0,1118.9 1230.5,1129.2 1236.0,1131.5 1241.5,1117.1 1247.0,1119.2 1252.4,1115.4 1257.9,1122.0 1263.4,1116.5 1268.9,1121.5 1274.4,1128.4 1279.9,1123.5 1285.4,1127.0 1290.8,1120.8 1296.3,1126.1 1301.8,1117.5 1307.3,1135.0 1312.8,1136.8 1318.3,1136.8 1323.8,1125.8 1329.3,1143.7 1334.7,1142.6 1340.2,1132.2 1345.7,1134.1 1351.2,1134.1 1356.7,1127.5 1362.2,1130.2 1367.7,1124.2 1373.1,1126.0 1378.6,1124.7 1384.1,1123.3 1389.6,1122.1 1395.1,1126.3 1400.6,1113.7 1406.1,1105.6 1411.6,1101.3 1417.0,1104.3 1422.5,1089.0 1428.0,1080.5 1433.5,1082.9 1439.0,1081.5 1444.5,1086.3 1450.0,1090.4 1455.4,1108.0 1460.9,1117.3 1466.4,1111.5 1471.9,1074.0 1477.4,1089.0 1482.9,1112.3 1488.4,1112.5 1493.9,1111.8 1499.3,1116.7 1504.8,1109.9 1510.3,1113.6 1515.8,1115.7 1521.3,1108.6 1526.8,1101.9 1532.3,1102.1 1537.7,1096.7 1543.2,1094.3 1548.7,1095.9 1554.2,1092.3 1559.7,1087.2 1565.2,1086.8 1570.7,1099.5 1576.2,1093.7 1581.6,1090.0 1587.1,1089.4 1592.6,1085.6 1598.1,1084.9 1603.6,1088.2 1609.1,1084.9 1614.6,1084.6 1620.0,1091.6 1625.5,1085.8 1631.0,1070.4 1636.5,1067.2 1642.0,1069.3 1647.5,1061.6 1653.0,1058.8 1658.5,1054.7 1663.9,1059.2 1669.4,1066.0 1674.9,1066.0 1680.4,1083.1 1685.9,1086.4 1691.4,1083.3 1696.9,1080.8 1702.3,1077.1 1707.8,1095.2 1713.3,1107.0 1718.8,1112.1 1724.3,1097.5 1729.8,1103.6 1735.3,1122.5 1740.8,1130.1 1746.2,1135.1 1751.7,1124.3 1757.2,1116.1 1762.7,1130.5 1768.2,1143.1 1773.7,1148.9 1779.2,1128.5 1784.6,1119.9 1790.1,1117.7 1795.6,1108.6 1801.1,1110.7 1806.6,1113.6 1812.1,1115.5 1817.6,1108.8 1823.1,1110.7 1828.5,1109.3 1834.0,1107.2 1839.5,1107.8 1845.0,1110.2 1850.5,1110.2 1856.0,1099.1 1861.5,1094.9 1866.9,1109.7 1872.4,1108.4 1877.9,1103.9 1883.4,1131.2 1888.9,1134.9 1894.4,1129.9 1899.9,1144.1 1905.4,1126.4 1910.8,1130.5 1916.3,1123.5 1921.8,1140.0 1927.3,1138.6 1932.8,1145.8 1938.3,1156.1 1943.8,1145.6 1949.2,1139.3 1954.7,1140.1 1960.2,1139.1 1965.7,1122.1 1971.2,1119.4 1976.7,1120.4 1982.2,1122.3 1987.7,1125.5 1993.1,1124.6 1998.6,1133.7 2004.1,1137.8 2009.6,1137.8 2015.1,1130.0 2020.6,1128.9 2026.1,1140.7 2031.5,1135.2 2037.0,1106.3 2042.5,1106.3 2048.0,1113.4 2053.5,1115.4 2059.0,1119.6 2064.5,1120.8 2070.0,1117.1 2075.4,1113.0 2080.9,1119.9 2086.4,1115.7 2091.9,1120.0" fill="none" stroke="#b9d2f5" stroke-width="3.1" stroke-linejoin="round" stroke-linecap="round"/>
<text x="2396.8" y="190.4" font-size="24" fill="#b9b9b9" text-anchor="start" font-weight="normal" textLength="125.6" lengthAdjust="spacing" >122,000.00</text>
<text x="2396.8" y="297.4" font-size="24" fill="#b9b9b9" text-anchor="start" font-weight="normal" textLength="125.6" lengthAdjust="spacing" >118,000.00</text>
<text x="2396.8" y="408.09999999999997" font-size="24" fill="#b9b9b9" text-anchor="start" font-weight="normal" textLength="125.6" lengthAdjust="spacing" >114,000.00</text>
<text x="2396.8" y="521.6999999999999" font-size="24" fill="#b9b9b9" text-anchor="start" font-weight="normal" textLength="125.6" lengthAdjust="spacing" >110,000.00</text>
<text x="2396.8" y="581.1" font-size="24" fill="#b9b9b9" text-anchor="start" font-weight="normal" textLength="125.6" lengthAdjust="spacing" >108,000.00</text>
<text x="2396.8" y="640.4" font-size="24" fill="#b9b9b9" text-anchor="start" font-weight="normal" textLength="125.6" lengthAdjust="spacing" >106,000.00</text>
<text x="2396.8" y="701.1" font-size="24" fill="#b9b9b9" text-anchor="start" font-weight="normal" textLength="125.6" lengthAdjust="spacing" >104,000.00</text>
<text x="2396.8" y="763.9" font-size="24" fill="#b9b9b9" text-anchor="start" font-weight="normal" textLength="125.6" lengthAdjust="spacing" >102,000.00</text>
<text x="2396.8" y="826.4" font-size="24" fill="#b9b9b9" text-anchor="start" font-weight="normal" textLength="125.6" lengthAdjust="spacing" >100,000.00</text>
<text x="2396.5" y="890.4" font-size="24" fill="#b9b9b9" text-anchor="start" font-weight="normal" textLength="111.5" lengthAdjust="spacing" >98,000.00</text>
<text x="2396.5" y="948.4" font-size="24" fill="#b9b9b9" text-anchor="start" font-weight="normal" textLength="111.5" lengthAdjust="spacing" >96,250.00</text>
<text x="2396.5" y="1008.4" font-size="24" fill="#b9b9b9" text-anchor="start" font-weight="normal" textLength="111.5" lengthAdjust="spacing" >94,450.00</text>
<text x="2396" y="1054.4" font-size="24" fill="#b9b9b9" text-anchor="start" font-weight="normal" textLength="62" lengthAdjust="spacing" >80.00</text>
<rect x="2386.5" y="58.5" width="147" height="49" rx="8" fill="#0f0f0f" stroke="#2e2e2e" stroke-width="1"/>
<text x="2404" y="91" font-size="23" fill="#dcdcdc" text-anchor="start" font-weight="normal" textLength="59" lengthAdjust="spacing" >USDT</text>
<path d="M2380.5 754 H2530.5 a3 3 0 0 1 3 3 V808.5 a3 3 0 0 1 -3 3 H2380.5 Z" fill="#f7454d"/>
<text x="2397.8" y="777.3" font-size="24" fill="#ffffff" text-anchor="start" font-weight="normal" textLength="124.6" lengthAdjust="spacing" >101,569.44</text>
<text x="2396.5" y="803.3" font-size="24" fill="#ffd9db" text-anchor="start" font-weight="normal" textLength="97" lengthAdjust="spacing" >01:40:40</text>
<path d="M2330 1104 H2379 V1136 H2330 a3 3 0 0 1 -3 -3 V1107 a3 3 0 0 1 3 -3 Z" fill="#c4dcfa"/>
<path d="M2380.2 1104 H2466 a3 3 0 0 1 3 3 V1133 a3 3 0 0 1 -3 3 H2380.2 Z" fill="#c4dcfa"/>
<text x="2336.8" y="1128.4" font-size="24" fill="#131722" textLength="33.5" lengthAdjust="spacingAndGlyphs">RSI</text>
<text x="2396" y="1128.4" font-size="24" fill="#131722" text-anchor="start" font-weight="normal" textLength="62" lengthAdjust="spacing" >41.73</text>
<text x="105.7" y="1215" font-size="24" fill="#b9b9b9" text-anchor="middle" font-weight="normal" >10</text>
<text x="204.46" y="1215" font-size="24" fill="#b9b9b9" text-anchor="middle" font-weight="normal" >13</text>
<text x="303.22" y="1215" font-size="24" fill="#b9b9b9" text-anchor="middle" font-weight="normal" >16</text>
<text x="401.98" y="1215" font-size="24" fill="#b9b9b9" text-anchor="middle" font-weight="normal" >19</text>
<text x="500.74" y="1215" font-size="24" fill="#b9b9b9" text-anchor="middle" font-weight="normal" >22</text>
<text x="599.5" y="1215" font-size="24" fill="#b9b9b9" text-anchor="middle" font-weight="normal" >25</text>
<text x="698.2600000000001" y="1215" font-size="24" fill="#b9b9b9" text-anchor="middle" font-weight="normal" >28</text>
<text x="797.0200000000001" y="1215" font-size="24" fill="#d4d4d4" text-anchor="middle" font-weight="bold" >Oct</text>
<text x="895.7800000000001" y="1215" font-size="24" fill="#b9b9b9" text-anchor="middle" font-weight="normal" >4</text>
<text x="994.5400000000001" y="1215" font-size="24" fill="#b9b9b9" text-anchor="middle" font-weight="normal" >7</text>
<text x="1093.3" y="1215" font-size="24" fill="#b9b9b9" text-anchor="middle" font-weight="normal" >10</text>
<text x="1192.0600000000002" y="1215" font-size="24" fill="#b9b9b9" text-anchor="middle" font-weight="normal" >13</text>
<text x="1290.8200000000002" y="1215" font-size="24" fill="#b9b9b9" text-anchor="middle" font-weight="normal" >16</text>
<text x="1389.5800000000002" y="1215" font-size="24" fill="#b9b9b9" text-anchor="middle" font-weight="normal" >19</text>
<text x="1488.3400000000001" y="1215" font-size="24" fill="#b9b9b9" text-anchor="middle" font-weight="normal" >22</text>
<text x="1587.1000000000001" y="1215" font-size="24" fill="#b9b9b9" text-anchor="middle" font-weight="normal" >25</text>
<text x="1685.8600000000001" y="1215" font-size="24" fill="#b9b9b9" text-anchor="middle" font-weight="normal" >28</text>
<text x="1817.5400000000002" y="1215" font-size="24" fill="#d4d4d4" text-anchor="middle" font-weight="bold" >Nov</text>
<text x="1916.3000000000002" y="1215" font-size="24" fill="#b9b9b9" text-anchor="middle" font-weight="normal" >4</text>
<text x="2015.0600000000002" y="1215" font-size="24" fill="#b9b9b9" text-anchor="middle" font-weight="normal" >7</text>
<text x="2113.82" y="1215" font-size="24" fill="#b9b9b9" text-anchor="middle" font-weight="normal" >10</text>
<text x="2212.58" y="1215" font-size="24" fill="#b9b9b9" text-anchor="middle" font-weight="normal" >13</text>
<text x="2311.34" y="1215" font-size="24" fill="#b9b9b9" text-anchor="middle" font-weight="normal" >16</text>
<text x="19.5" y="38" font-size="23.5" fill="#dedede" text-anchor="start" font-weight="normal" textLength="703" lengthAdjust="spacing" >Shayannv created with TradingView.com, Nov 09, 2025 10:19 UTC</text>
<defs><clipPath id="cw"><rect x="2150" y="165" width="350" height="150"/></clipPath></defs>

<g transform="translate(15,1262) scale(0.125)" fill="#e1e1e1" stroke="none">
<path d="M62 90H243V315H150V180H62Z"/><circle cx="318" cy="140" r="43"/><path d="M420 88H512L425 315H325Z"/>
<path d="M620 90H785V136H730V315H679V136H620Z"/>
<rect x="795" y="165" width="46" height="150"/>
<path d="M818 250Q818 187 886 187" fill="none" stroke="#e1e1e1" stroke-width="44"/>
<circle cx="968" cy="240" r="55.5" fill="none" stroke="#e1e1e1" stroke-width="45"/><rect x="1000" y="165" width="46" height="150"/>
<circle cx="1168" cy="240" r="55.5" fill="none" stroke="#e1e1e1" stroke-width="45"/><rect x="1200" y="85" width="46" height="230"/>
<rect x="1282" y="165" width="46" height="150"/><circle cx="1305" cy="112" r="30"/>
<path d="M1395 315V165M1395 246A56.5 58 0 0 1 1508 246V315" fill="none" stroke="#e1e1e1" stroke-width="45"/>
<circle cx="1640" cy="240" r="55.5" fill="none" stroke="#e1e1e1" stroke-width="45"/>
<path d="M1698 165V318A58 50 0 0 1 1584 338" fill="none" stroke="#e1e1e1" stroke-width="45"/>
<path d="M1700 88H1761L1816 250L1872 88H1935L1845 315H1788Z"/>
<rect x="1957" y="165" width="46" height="150"/><circle cx="1980" cy="112" r="30"/>
<path d="M2153 276A55.5 55.5 0 1 1 2165.5 244" fill="none" stroke="#e1e1e1" stroke-width="45"/><rect x="2062" y="222" width="126" height="37"/>
<g clip-path="url(#cw)"><path d="M2224 155L2278 322L2322 198L2367 322L2422 155" fill="none" stroke="#e1e1e1" stroke-width="46" stroke-linejoin="miter" stroke-miterlimit="10"/></g>
</g>
</svg>
</body></html>
